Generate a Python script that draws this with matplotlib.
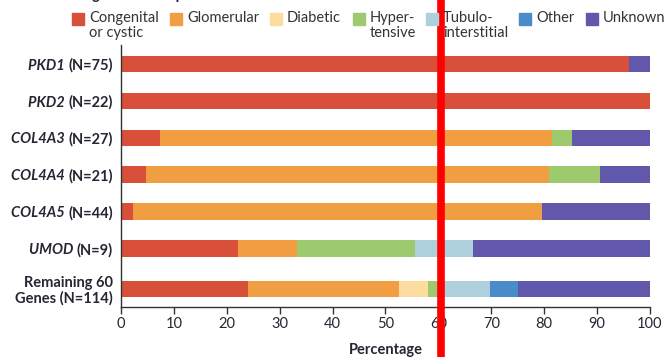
import numpy as np
import matplotlib.pyplot as plt
from matplotlib.patches import Rectangle

plt.rcParams['font.family'] = ['Lato', 'DejaVu Sans']

genes = ["PKD1", "PKD2", "COL4A3", "COL4A4", "COL4A5", "UMOD", None]
counts = ["(N=75)", "(N=22)", "(N=27)", "(N=21)", "(N=44)", "(N=9)", "Remaining 60\nGenes (N=114)"]
groups = ["Congenital\nor cystic", "Glomerular", "Diabetic", "Hyper-\ntensive",
          "Tubulo-\ninterstitial", "Other", "Unknown"]
colors = ["#d9503a", "#f19e43", "#fddca0", "#9dca6f", "#aed0dc", "#4a8bc9", "#6157ab"]

# percentage of patients per diagnostic group (rows follow genes)
congenital = [96.0, 100.0, 7.4, 4.8, 2.3, 22.2, 24.1]
glomerular = [0.0, 0.0, 74.1, 76.2, 77.3, 11.1, 28.5]
diabetic = [0.0, 0.0, 0.0, 0.0, 0.0, 0.0, 5.4]
hypertensive = [0.0, 0.0, 3.7, 9.5, 0.0, 22.2, 2.0]
tubulo = [0.0, 0.0, 0.0, 0.0, 0.0, 11.1, 9.7]
other = [0.0, 0.0, 0.0, 0.0, 0.0, 0.0, 5.3]
unknown = [4.0, 0.0, 14.8, 9.5, 20.4, 33.4, 25.0]
series = [congenital, glomerular, diabetic, hypertensive, tubulo, other, unknown]

xticks = [0, 10, 20, 30, 40, 50, 60, 70, 80, 90, 100]
marker_x = 60.5

ypos = np.array([0, 1, 2, 3, 4, 5, 6.1])
txt = "#262633"

fig = plt.figure(figsize=(6.64, 3.57), dpi=100)
ax = fig.add_axes([0.1822, 0.14, 0.7967, 0.734])

left = np.zeros(len(ypos))
for vals, c in zip(series, colors):
    ax.barh(ypos, vals, left=left, height=0.45, color=c, edgecolor="none")
    left += np.array(vals)

ax.set_xlim(0, 100)
ax.set_ylim(6.59, -0.52)
ax.set_xticks(xticks)
ax.set_yticks(ypos)
ax.set_yticklabels(counts, fontweight="bold", fontsize=10.5, color=txt,
                   ha="right", multialignment="right", linespacing=1.05)
ax.tick_params(axis="y", length=0, pad=6)
ax.tick_params(axis="x", direction="out", length=5, width=1, color="#333333",
               labelsize=10.5, labelcolor=txt, pad=2)
for s in ["top", "right"]:
    ax.spines[s].set_visible(False)
for s in ["left", "bottom"]:
    ax.spines[s].set_color("#333333")
    ax.spines[s].set_linewidth(1)

# italic gene names in front of the counts
for lab, g in zip(ax.get_yticklabels(), genes):
    if g is None:
        continue
    ax.annotate(g + " ", xy=(0, 0.5), xycoords=lab, ha="right", va="center",
                fontsize=10.5, fontweight="bold", fontstyle="italic", color=txt)

ax.set_xlabel("Percentage", fontsize=10.5, fontweight="bold", color=txt, labelpad=9)

# legend row along the top
patch_px = [72, 170, 270, 353, 426, 519, 586]
W, H = 664, 357
for px, lab, c in zip(patch_px, groups, colors):
    fig.patches.append(Rectangle((px / W, 1 - 25 / H), 12 / W, 12 / H,
                                 transform=fig.transFigure, color=c))
    fig.text((px + 17) / W, 1 - 11 / H, lab, fontsize=10.5, color="#333333",
             ha="left", va="top", linespacing=1.1)

fig.text(70 / W, 1 + 0.5 / H, "Diagnostic Group", fontsize=10.5, fontweight="bold",
         color=txt, ha="left", va="baseline")

ax.axvline(marker_x, ymin=-0.3, ymax=1.3, color="#ff0000", linewidth=5.5,
           clip_on=False, zorder=10)

fig.savefig("out.png", dpi=100)
